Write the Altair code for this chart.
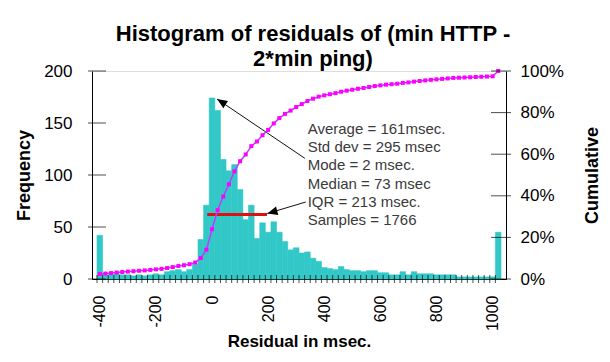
import altair as alt
import pandas as pd

# ---- data ----
bin_centers = list(range(-400, 1021, 20))          # 72 categories (ms)
counts = [
    42,                                               # -400
    4, 4, 5, 4, 4, 3, 4, 3, 4,                        # -380 .. -220
    5, 4, 7, 8, 9, 7, 9, 14,                          # -200 .. -60
    38, 71, 174, 162, 115, 104, 110, 86, 57, 71,      # -40 .. 140
    39, 54, 45, 55, 45, 36, 28, 30,                   # 160 .. 300
    25, 26, 20, 17, 11, 10, 9, 12, 9, 8, 8, 7, 8, 8, 6, 6,   # 320 .. 620
    4, 4, 7, 4, 7, 5, 5, 5, 4, 4, 4, 4,               # 640 .. 860
    2, 2, 2, 2, 2, 2, 2,                              # 880 .. 1000
    45,                                               # 1020 (overflow)
]
freq_ticks = [0, 50, 100, 150, 200]
cum_ticks = [0, 0.2, 0.4, 0.6, 0.8, 1.0]
x_labels = [-400, -200, 0, 200, 400, 600, 800, 1000]

title_lines = ["Histogram of residuals of (min HTTP -", "2*min ping)"]
stats_lines = ["Average = 161msec.", "Std dev = 295 msec", "Mode = 2 msec.",
               "Median = 73 msec", "IQR = 213 msec.", "Samples = 1766"]
iqr_q1, iqr_q3, iqr_level = -17, 196, 62
text_anchor = {"x": 341, "y": 151}
arrows = pd.DataFrame({
    "x": [331, 334], "y": [116, 74],
    "x2": [18, 197], "y2": [173, 63],
    "angle": [303.3, 254.6],
})

FONT = "Liberation Sans"
BAR = "#33C8C8"
X_DOMAIN = [-410, 1030]

df = pd.DataFrame({"bin": bin_centers, "count": counts})
df["lo"] = df["bin"] - 10
df["hi"] = df["bin"] + 10
df["cum"] = df["count"].cumsum() / df["count"].sum()

xscale = alt.Scale(domain=X_DOMAIN, nice=False, zero=False)
yscale = alt.Scale(domain=[0, 200], nice=False)
cscale = alt.Scale(domain=[0, 1], nice=False)

bars = alt.Chart(df).mark_bar(color=BAR, stroke=BAR, strokeWidth=0.6,
                              orient="vertical").encode(
    x=alt.X("lo:Q", scale=xscale,
            axis=alt.Axis(values=x_labels, labelExpr="datum.value + ''", labelAngle=270,
                          ticks=False, tickSize=0, labelPadding=16, labelFontSize=16,
                          labelFont=FONT, labelColor="#000", domainColor="#000",
                          grid=False, title="Residual in msec.", titleFontSize=17,
                          titleFont=FONT, titleFontWeight="bold", titlePadding=3,
                          titleColor="#000")),
    x2="hi:Q",
    y=alt.Y("count:Q", scale=yscale,
            axis=alt.Axis(values=freq_ticks, ticks=False, tickSize=0, labelPadding=20,
                          labelFontSize=17, labelFont=FONT, labelColor="#000",
                          domainColor="#000", grid=False,
                          title="Frequency", titleFontSize=18, titleFont=FONT,
                          titleFontWeight="bold", titlePadding=10, titleColor="#000")),
    y2=alt.datum(0),
)

xticks = alt.Chart(df).mark_tick(orient="vertical", color="#000", size=8, thickness=1).encode(
    x=alt.X("lo:Q", scale=xscale),
    y=alt.datum(0, scale=yscale),
)

lticks = alt.Chart(pd.DataFrame({"v": freq_ticks})).mark_tick(
    orient="horizontal", color="#000", size=18, thickness=1).encode(
    x=alt.datum(X_DOMAIN[0], scale=xscale),
    y=alt.Y("v:Q", scale=yscale),
)

red = alt.Chart(pd.DataFrame({"q1": [iqr_q1], "q3": [iqr_q3], "lvl": [iqr_level]})).mark_rule(
    color="#E01010", strokeWidth=3).encode(
    x=alt.X("q1:Q", scale=xscale), x2="q3:Q",
    y=alt.Y("lvl:Q", scale=yscale),
)

arrow_lines = alt.Chart(arrows).mark_rule(color="#111", strokeWidth=1).encode(
    x=alt.X("x:Q", scale=xscale), x2="x2:Q",
    y=alt.Y("y:Q", scale=yscale), y2="y2:Q",
)

heads = alt.Chart(arrows).mark_point(
    shape="M0,0L0.42,1L-0.42,1Z", filled=True, color="#000", size=420, opacity=1).encode(
    x=alt.X("x2:Q", scale=xscale),
    y=alt.Y("y2:Q", scale=yscale),
    angle=alt.Angle("angle:Q", scale=None),
)

stats = alt.Chart(pd.DataFrame({"x": [text_anchor["x"]], "y": [text_anchor["y"]],
                                "t": [stats_lines]})).mark_text(
    align="left", baseline="top", fontSize=15, font=FONT, color="#3a3a3a",
    lineHeight=18.2).encode(
    x=alt.X("x:Q", scale=xscale),
    y=alt.Y("y:Q", scale=yscale),
    text="t",
)

freq_group = alt.layer(bars, xticks, lticks, red, stats, arrow_lines, heads)

cum_line = alt.Chart(df).mark_line(color="#B040FF", strokeWidth=1.5).encode(
    x=alt.X("bin:Q", scale=xscale),
    y=alt.Y("cum:Q", scale=cscale,
            axis=alt.Axis(orient="right", values=cum_ticks, format=".0%", ticks=False,
                          tickSize=0, labelPadding=14, labelFontSize=17, labelFont=FONT,
                          labelColor="#000", domainColor="#000", grid=False,
                          title="Cumulative", titleAngle=270, titleFontSize=18,
                          titleFont=FONT, titleFontWeight="bold", titlePadding=38,
                          titleColor="#000")),
)
cum_pts = alt.Chart(df).mark_point(shape="square", filled=True, color="#FF00FF",
                                   size=16, opacity=1).encode(
    x=alt.X("bin:Q", scale=xscale),
    y=alt.Y("cum:Q", scale=cscale),
)
rticks = alt.Chart(pd.DataFrame({"v": cum_ticks})).mark_tick(
    orient="horizontal", color="#000", size=20, thickness=1).encode(
    x=alt.datum(X_DOMAIN[1], scale=xscale),
    y=alt.Y("v:Q", scale=cscale),
)
cum_group = alt.layer(cum_line, cum_pts, rticks)

chart = alt.layer(freq_group, cum_group).resolve_scale(y="independent").properties(
    width=414, height=208,
    autosize=alt.AutoSizeParams(type="none"),
    padding={"left": 84, "top": 63, "right": 96, "bottom": 75},
    title=alt.TitleParams(title_lines, font=FONT, fontSize=22, fontWeight="bold",
                          lineHeight=25, anchor="middle", dx=14, dy=19, offset=10,
                          color="#000"),
).configure_view(stroke="#000", strokeWidth=1).configure(background="white")

chart.save("out.html", embed_options={"renderer": "svg", "actions": False})
